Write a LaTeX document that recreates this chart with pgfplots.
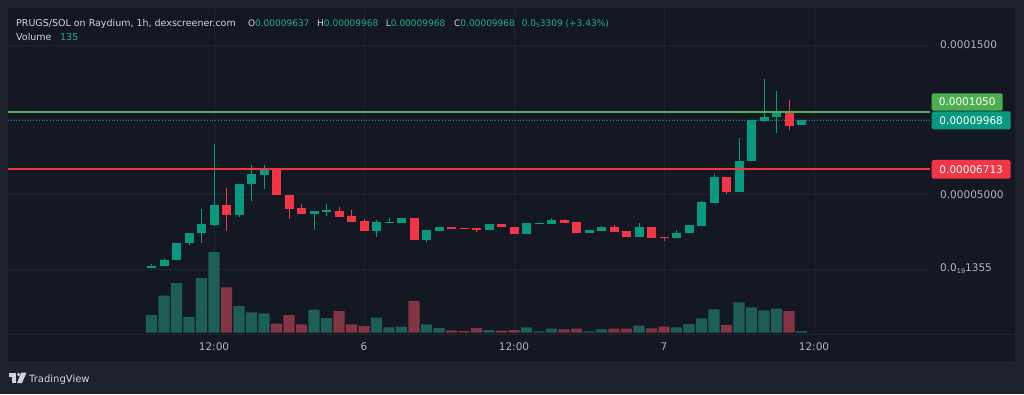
\documentclass[border=0pt]{standalone}
\usepackage{pgfplots}
\pgfplotsset{compat=1.18}
\usepackage{pgfplotstable}
\usepackage{fontspec}
\setmainfont{DejaVu Sans}
\definecolor{outerbg}{HTML}{1E222D}
\definecolor{panelbg}{HTML}{141823}
\definecolor{gridc}{HTML}{1F2430}
\definecolor{txt}{HTML}{B2B5BE}
\definecolor{hdr}{HTML}{D1D4DC}
\definecolor{upc}{HTML}{089981}
\definecolor{dnc}{HTML}{F23645}
\definecolor{vup}{HTML}{1D5E57}
\definecolor{vdn}{HTML}{843543}
\definecolor{lgreen}{HTML}{4CAF50}
\definecolor{hval}{HTML}{22AB94}

% prices in units of 1e-5 SOL, x in hours from 12:00 (day 5)
\pgfplotstableread{
h O H L C
-5 0.07 0.36 0.07 0.20
-4 0.18 0.74 0.18 0.58
-3 0.58 1.74 0.57 1.72
-2 1.72 2.44 1.59 2.43
-1 2.41 4.04 1.72 2.99
0 2.97 8.37 2.86 4.29
2 3.62 5.69 3.46 5.67
3 5.67 6.97 4.55 6.34
4 6.32 6.97 5.38 6.63
8 3.66 3.87 2.61 3.86
9 3.85 4.37 3.57 3.92
13 2.57 3.28 2.16 3.13
14 3.06 3.42 3.06 3.13
15 3.08 3.40 3.08 3.40
17 1.92 2.61 1.81 2.61
18 2.57 2.79 2.57 2.79
22 2.63 2.99 2.63 2.99
25 2.36 3.06 2.36 3.06
26 3.03 3.17 3.03 3.10
27 3.03 3.40 3.03 3.28
30 2.41 2.61 2.41 2.61
31 2.55 2.88 2.55 2.81
34 2.16 3.08 2.16 2.83
37 2.06 2.61 2.06 2.43
38 2.39 2.93 2.39 2.93
39 2.86 4.58 2.86 4.47
40 4.42 6.34 4.42 6.16
42 5.19 8.79 5.19 7.23
43 7.20 9.98 7.20 9.98
44 9.93 12.71 9.83 10.18
45 10.16 11.92 9.09 10.45
47 9.637 9.968 9.637 9.968
}\uptab
\pgfplotstableread{
h O H L C
1 4.29 5.43 2.53 3.62
5 6.68 6.68 4.96 4.96
6 4.98 4.98 3.35 4.02
7 4.07 4.37 3.66 3.66
10 3.89 4.13 3.50 3.50
11 3.53 3.95 3.17 3.17
12 3.22 3.37 2.57 2.57
16 3.40 3.40 1.92 1.92
19 2.79 2.80 2.70 2.70
20 2.73 2.73 2.66 2.66
21 2.73 2.73 2.48 2.63
23 2.99 2.99 2.81 2.81
24 2.83 2.83 2.36 2.36
28 3.28 3.37 3.08 3.08
29 3.13 3.13 2.39 2.39
32 2.79 2.95 2.48 2.48
33 2.53 2.53 2.14 2.14
35 2.83 2.83 2.10 2.10
36 2.14 2.14 1.86 2.07
41 6.16 6.16 4.99 5.18
46 10.45 11.32 9.30 9.58
}\dntab
\pgfplotstableread{
h v
-5 17.7
-4 37
-3 49.7
-2 15.7
-1 54.7
0 80.7
2 26.7
3 20.4
4 19.4
8 23
9 14.7
13 15
14 5.4
15 6
17 8.4
18 4.7
22 2.7
25 5.4
26 1.4
27 4
30 1.4
31 3.4
34 7
37 5.4
38 8.7
39 14.4
40 23.4
42 30.4
43 25.4
44 22.4
45 24
47 1.7
}\volup
\pgfplotstableread{
h v
1 45.4
5 9
6 17.7
7 8.4
10 21.7
11 8.4
12 6.7
16 31.7
19 2.4
20 1.7
21 4.7
23 2
24 2.7
28 3.4
29 4
32 4
33 4
35 4.4
36 6
41 7.7
46 21.7
}\voldn

\pgfplotsset{
  base/.style={at={(8pt,59pt)}, anchor=south west, width=922pt, height=327pt,
    scale only axis, xmin=-16.48, xmax=57.28},
}
\newcommand{\hf}{\fontsize{9}{11}\selectfont}
\newcommand{\htf}{\fontsize{9.5}{11}\selectfont}
\newcommand{\tf}{\fontsize{10.5}{12}\selectfont}

\begin{document}
\begin{tikzpicture}[x=1pt,y=1pt]
\useasboundingbox (0,0) rectangle (1024,394);
\fill[outerbg] (0,0) rectangle (1024,394);
\fill[panelbg] (8,33) rectangle (1015,386);
\draw[gridc, line width=1pt] (8,59.5) -- (1015,59.5);

% grid and tick labels
\begin{axis}[base, ymin=-4.42, ymax=17.48,
  axis x line*=bottom, axis y line*=right,
  axis line style={draw=none}, tick style={draw=none},
  xtick={0,12,24,36,48}, xticklabels={12:00,6,12:00,7,12:00},
  ytick={0,5,10,15},
  yticklabels={{0.0\raisebox{-0.35ex}{\fontsize{6.5}{6.5}\selectfont 19}1355},0.00005000,{},0.0001500},
  grid=major, grid style={gridc, line width=1pt},
  xticklabel style={font=\tf, text=txt, anchor=center, inner sep=0pt, yshift=-12pt},
  yticklabel style={font=\tf, text=txt, anchor=west, inner sep=0pt, xshift=10pt},
]
\addplot[draw=none] coordinates {(0,0)};
\end{axis}

% volume
\begin{axis}[base, ymin=-2.3, ymax=324.7, hide axis, ybar, bar width=11.3pt]
\addplot[fill=vup, draw=none, bar shift=0pt] table[x=h,y=v]{\volup};
\addplot[fill=vdn, draw=none, bar shift=0pt] table[x=h,y=v]{\voldn};
\end{axis}

% candles
\begin{axis}[base, ymin=-4.42, ymax=17.48, hide axis]
\addplot[upc, dotted, line width=0.8pt] coordinates {(-16.48,9.968) (57.28,9.968)};
% up wicks
\addplot[draw=none, mark=none, error bars/.cd, y dir=plus, y explicit, error mark=none,
  error bar style={draw=upc, line width=1pt}]
  table[x=h, y=L, y error plus expr=\thisrow{H}-\thisrow{L}]{\uptab};
% up bodies
\addplot[draw=none, mark=none, error bars/.cd, y dir=plus, y explicit, error mark=none,
  error bar style={draw=upc, line width=9pt}]
  table[x=h, y=O, y error plus expr=\thisrow{C}-\thisrow{O}]{\uptab};
% down wicks
\addplot[draw=none, mark=none, error bars/.cd, y dir=plus, y explicit, error mark=none,
  error bar style={draw=dnc, line width=1pt}]
  table[x=h, y=L, y error plus expr=\thisrow{H}-\thisrow{L}]{\dntab};
% down bodies
\addplot[draw=none, mark=none, error bars/.cd, y dir=plus, y explicit, error mark=none,
  error bar style={draw=dnc, line width=9pt}]
  table[x=h, y=C, y error plus expr=\thisrow{O}-\thisrow{C}]{\dntab};
% horizontal levels
\addplot[lgreen, line width=1.6pt] coordinates {(-16.48,10.50) (57.28,10.50)};
\addplot[dnc, line width=1.6pt] coordinates {(-16.48,6.713) (57.28,6.713)};
\end{axis}

% price labels on scale
\fill[lgreen, rounded corners=1.5pt] (931.7,283.3) rectangle (1002.7,300.7);
\node[font=\tf, text=white, inner sep=0pt] at (967.2,292) {0.0001050};
\fill[upc, rounded corners=1.5pt] (931.7,264.7) rectangle (1010.7,282.7);
\node[font=\tf, text=white, inner sep=0pt] at (971.2,273.7) {0.00009968};
\fill[dnc, rounded corners=1.5pt] (931.7,215.3) rectangle (1010.7,234);
\node[font=\tf, text=white, inner sep=0pt] at (971.2,224.7) {0.00006713};

% header
\node[font=\htf, text=hdr, anchor=base west, inner sep=0pt] at (16,367.5) {PRUGS/SOL on Raydium, 1h, dexscreener.com};
\node[font=\hf, anchor=base west, inner sep=0pt] at (247.8,367.5) {\textcolor{hdr}{O}\textcolor{hval}{0.00009637}};
\node[font=\hf, anchor=base west, inner sep=0pt] at (317,367.5) {\textcolor{hdr}{H}\textcolor{hval}{0.00009968}};
\node[font=\hf, anchor=base west, inner sep=0pt] at (385.7,367.5) {\textcolor{hdr}{L}\textcolor{hval}{0.00009968}};
\node[font=\hf, anchor=base west, inner sep=0pt] at (454,367.5) {\textcolor{hdr}{C}\textcolor{hval}{0.00009968}};
\node[font=\hf, text=hval, anchor=base west, inner sep=0pt] at (521.6,367.5) {0.0\raisebox{-0.3ex}{\fontsize{6}{6}\selectfont 5}3309 (+3.43\%)};
\node[font=\htf, text=hdr, anchor=base west, inner sep=0pt] at (16,353.3) {Volume};
\node[font=\htf, text=hval, anchor=base west, inner sep=0pt] at (60,353.3) {135};

% TradingView logo
\fill[hdr] (8.5,21.5) rectangle (16,17.5);
\fill[hdr] (12,17.5) rectangle (16,11);
\fill[hdr] (18.6,19.5) circle (1.8);
\fill[hdr] (21.2,21.5) -- (26.5,21.5) -- (22,11) -- (17,11) -- cycle;
\node[font=\fontsize{10}{12}\selectfont, text=hdr, anchor=base west, inner sep=0pt] at (29,11.5) {TradingView};
\end{tikzpicture}
\end{document}
